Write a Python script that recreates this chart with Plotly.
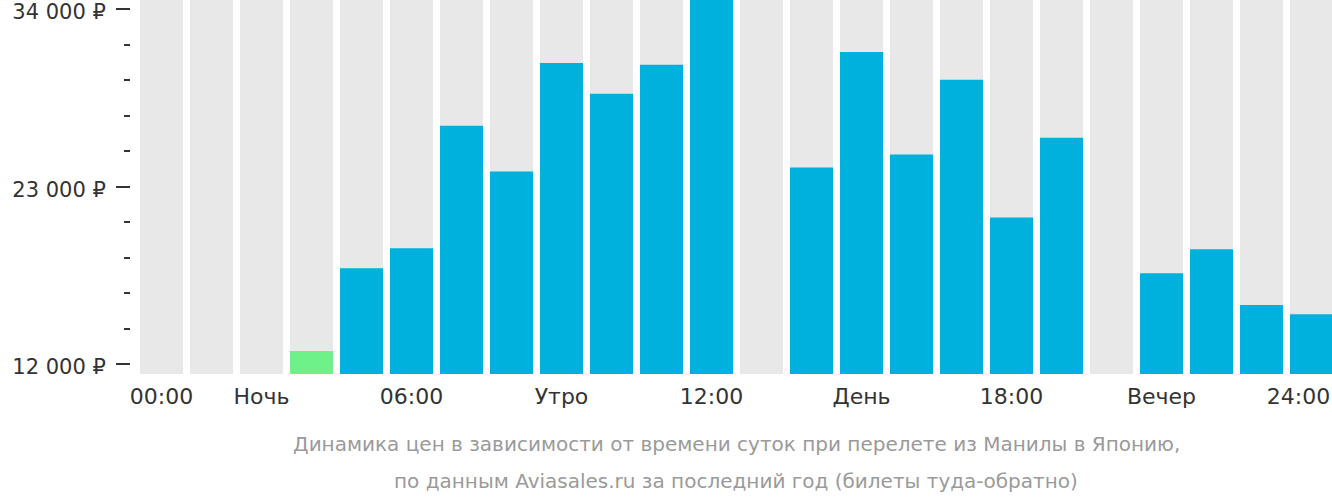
import plotly.graph_objects as go

hours = list(range(24))
prices = [None, None, None, 12800, 17930, 19170, 26770, 23930, 30660, 28750, 30540, 34560,
          None, 24175, 31340, 24980, 29610, 21085, 26030, None, 17620, 19110, 15650, 15090]
bar_colors = ["#00b1dd"] * 24
bar_colors[3] = "#6ff189"
tick_positions = [0, 2, 5, 8, 11, 14, 17, 20, 22.74]
tick_labels = ["00:00", "Ночь", "06:00", "Утро", "12:00", "День", "18:00", "Вечер", "24:00"]
y_ticks = [12000, 23000, 34000]
y_tick_labels = ["12 000 ₽", "23 000 ₽", "34 000 ₽"]
y_min, y_max = 11380, 34560
caption1 = "Динамика цен в зависимости от времени суток при перелете из Манилы в Японию,"
caption2 = "по данным Aviasales.ru за последний год (билеты туда-обратно)"

W, H = 1332, 502
ml, mb = 130, 128
pw = W - ml
ph = H - mb
FONT = "DejaVu Sans"

fig = go.Figure()
fig.add_trace(go.Bar(x=hours, y=[y_max - y_min] * 24, base=y_min, width=0.86,
                     marker=dict(color="#e8e8e8", line=dict(width=0)), hoverinfo="skip"))
fig.add_trace(go.Bar(x=hours, y=[(p - y_min) if p is not None else None for p in prices],
                     base=y_min, width=0.86,
                     marker=dict(color=bar_colors, line=dict(width=0))))

fig.update_layout(
    width=W, height=H, barmode="overlay", showlegend=False,
    margin=dict(l=ml, r=0, t=0, b=mb, autoexpand=False),
    plot_bgcolor="white", paper_bgcolor="white",
    font=dict(family=FONT, size=22, color="#333333"),
    xaxis=dict(domain=[10 / pw, 1], range=[-0.43, 23.41], tickmode="array",
               tickvals=tick_positions, ticktext=tick_labels, showgrid=False,
               zeroline=False, showline=False, ticks="", ticklabelstandoff=7,
               ticklabeloverflow="allow", automargin=False),
    yaxis=dict(anchor="free", position=0, range=[y_min, y_max], tickmode="array",
               tickvals=y_ticks, ticktext=y_tick_labels, showgrid=False, zeroline=False,
               showline=False, ticks="outside", ticklen=14, tickwidth=2, tickcolor="#333333",
               ticklabelstandoff=6, ticklabelshift=3, ticklabeloverflow="allow",
               automargin=False, tickfont=dict(size=21),
               minor=dict(tickmode="linear", tick0=12000, dtick=2200, ticks="outside",
                          ticklen=6, tickwidth=2, tickcolor="#333333", showgrid=False)),
)
for text, ypx in [(caption1, 444), (caption2, 481)]:
    fig.add_annotation(text=text, x=0.5, y=-(ypx - ph) / ph, xref="x domain", yref="paper",
                       xanchor="center", yanchor="middle", showarrow=False,
                       font=dict(family=FONT, size=20, color="#9a9a9a"))
fig.write_html("out.html")
